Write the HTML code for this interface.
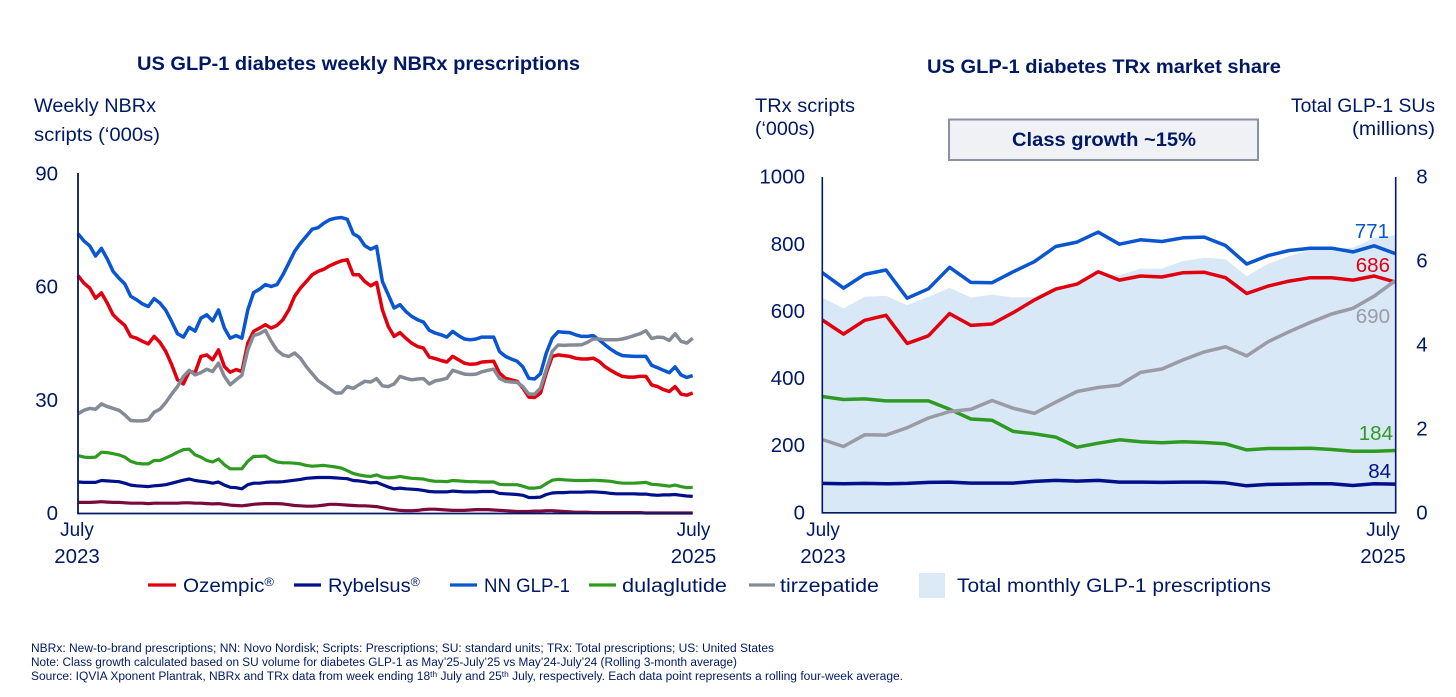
<!DOCTYPE html>
<html lang="en">
<head>
<meta charset="utf-8">
<title>US GLP-1 diabetes prescriptions</title>
<style>
html,body{margin:0;padding:0;background:#fff;}
body{width:1456px;height:697px;overflow:hidden;}
svg{display:block;}
text{font-family:"Liberation Sans",Arial,sans-serif;fill:#001965;font-size:19px;}
.b{font-weight:bold;}
.fn{font-size:11.5px;}
.num{font-size:20.5px;}
</style>
</head>
<body>
<svg id="root" xmlns="http://www.w3.org/2000/svg" width="1456" height="697" viewBox="0 0 1456 697">
<rect width="1456" height="697" fill="#fff"/>
<text class="b" x="137" y="70" textLength="443" lengthAdjust="spacingAndGlyphs">US GLP-1 diabetes weekly NBRx prescriptions</text>
<text class="b" x="927" y="73" textLength="354" lengthAdjust="spacingAndGlyphs">US GLP-1 diabetes TRx market share</text>
<text x="34" y="112" textLength="122" lengthAdjust="spacingAndGlyphs">Weekly NBRx</text>
<text x="34" y="141" textLength="126" lengthAdjust="spacingAndGlyphs">scripts (‘000s)</text>
<text x="755" y="112" textLength="100" lengthAdjust="spacingAndGlyphs">TRx scripts</text>
<text x="755" y="135" textLength="60" lengthAdjust="spacingAndGlyphs">(‘000s)</text>
<text x="1291" y="112" textLength="144" lengthAdjust="spacingAndGlyphs">Total GLP-1 SUs</text>
<text x="1352" y="135" textLength="83" lengthAdjust="spacingAndGlyphs">(millions)</text>
<rect x="949" y="119.5" width="309" height="40.5" fill="#f0f1f4" stroke="#8a90a6" stroke-width="2"/>
<text class="b" x="1012" y="146" textLength="184" lengthAdjust="spacingAndGlyphs">Class growth ~15%</text>
<g id="left-plot"></g>
<g id="right-plot"></g>
<g>
<line x1="148" x2="176" y1="585" y2="585" stroke="#e0000f" stroke-width="3.2"/>
<text x="183" y="592" textLength="91" lengthAdjust="spacingAndGlyphs">Ozempic<tspan dy="-6" font-size="12">®</tspan></text>
<line x1="294" x2="321" y1="585" y2="585" stroke="#00108a" stroke-width="3.2"/>
<text x="328" y="592" textLength="92" lengthAdjust="spacingAndGlyphs">Rybelsus<tspan dy="-6" font-size="12">®</tspan></text>
<line x1="450" x2="477" y1="585" y2="585" stroke="#0a55d0" stroke-width="3.2"/>
<text x="484" y="592" textLength="86" lengthAdjust="spacingAndGlyphs">NN GLP-1</text>
<line x1="589" x2="616" y1="585" y2="585" stroke="#2f9a22" stroke-width="3.2"/>
<text x="622" y="592" textLength="105" lengthAdjust="spacingAndGlyphs">dulaglutide</text>
<line x1="749" x2="775" y1="585" y2="585" stroke="#858b96" stroke-width="3.2"/>
<text x="780" y="592" textLength="99" lengthAdjust="spacingAndGlyphs">tirzepatide</text>
<rect x="919" y="573" width="26" height="25" fill="#dce9f7"/>
<text x="957" y="592" textLength="314" lengthAdjust="spacingAndGlyphs">Total monthly GLP-1 prescriptions</text>
</g>
<text class="fn" x="31" y="652" textLength="743" lengthAdjust="spacingAndGlyphs">NBRx: New-to-brand prescriptions; NN: Novo Nordisk; Scripts: Prescriptions; SU: standard units; TRx: Total prescriptions; US: United States</text>
<text class="fn" x="31" y="666" textLength="706" lengthAdjust="spacingAndGlyphs">Note: Class growth calculated based on SU volume for diabetes GLP-1 as May’25-July’25 vs May’24-July’24 (Rolling 3-month average)</text>
<text class="fn" x="31" y="680" textLength="872" lengthAdjust="spacingAndGlyphs">Source: IQVIA Xponent Plantrak, NBRx and TRx data from week ending 18<tspan dy="-3" font-size="8">th</tspan><tspan dy="3"> July and 25</tspan><tspan dy="-3" font-size="8">th</tspan><tspan dy="3"> July, respectively. Each data point represents a rolling four-week average.</tspan></text>
</svg>
<script>
const leftYTicks = [0, 30, 60, 90];
const rightYTicks = [0, 200, 400, 600, 800, 1000];
const secondaryYTicks = [0, 2, 4, 6, 8];
const xTickYears = ["2023", "2025"];
const xTickMonth = "July";

const nbrxNnGlp1 = [74.0,72.1,70.8,68.1,70.1,67.3,64.0,62.2,60.7,57.4,56.5,55.4,54.7,56.8,55.6,53.7,50.7,47.5,46.6,49.2,48.2,51.6,52.5,50.9,53.8,49.0,46.3,47.0,46.3,53.8,58.4,59.3,60.5,60.0,60.5,63.1,66.2,69.3,71.5,73.3,75.2,75.6,76.8,77.7,78.1,78.3,77.8,74.0,73.1,70.8,69.9,70.6,61.3,57.8,
54.3,55.2,53.4,52.1,51.2,50.6,48.4,47.7,47.2,46.6,48.1,47.0,46.1,45.9,46.1,46.6,46.6,46.6,42.8,41.5,40.8,40.2,38.7,35.7,35.5,36.9,42.4,46.3,48.0,47.9,47.8,47.2,46.8,46.8,47.0,45.9,44.6,43.4,42.4,41.7,41.6,41.5,41.5,41.5,39.1,38.5,37.8,37.2,38.7,36.6,35.9,36.4];
const nbrxOzempic = [62.9,60.9,59.6,56.9,58.3,55.6,52.5,51.0,49.7,46.8,46.3,45.5,44.8,46.8,45.2,42.8,39.3,35.3,34.2,37.5,37.2,41.5,41.9,40.6,43.2,38.8,37.3,38.0,37.5,45.0,48.1,49.0,49.9,49.0,49.7,51.2,53.8,57.4,59.6,61.3,63.1,64.0,64.6,65.5,66.2,66.8,67.1,63.1,63.1,61.3,60.2,61.1,53.8,49.4,
46.8,47.8,46.3,45.0,44.1,43.7,41.3,40.9,40.4,40.0,41.5,40.6,39.7,39.4,39.5,40.0,40.1,40.2,37.1,35.7,35.3,34.9,33.1,30.7,30.6,31.8,37.1,41.5,41.9,41.7,41.5,41.0,40.8,40.8,41.0,40.2,38.8,37.8,36.9,36.2,36.0,36.0,36.2,36.2,33.9,33.5,32.7,32.2,33.5,31.5,31.2,31.8];
const nbrxTirzepatide = [26.3,27.2,27.7,27.5,28.9,28.2,27.7,27.2,26.0,24.5,24.4,24.4,24.7,26.7,27.5,29.3,31.5,33.5,36.2,37.8,36.6,37.2,38.1,37.5,39.7,36.2,34.0,35.3,36.5,43.2,47.0,47.5,48.4,45.5,43.1,41.9,41.5,42.4,41.0,38.8,36.9,35.1,34.0,32.9,31.8,31.8,33.5,33.0,34.0,34.9,34.7,35.6,33.7,33.5,
34.2,36.2,35.7,35.3,35.5,35.6,34.2,35.0,35.3,35.7,37.8,37.3,36.8,36.7,36.8,37.4,37.8,38.1,35.7,34.9,34.7,34.6,33.5,31.5,31.5,33.1,38.0,42.8,44.5,44.4,44.5,44.5,44.6,45.2,46.1,46.1,45.9,45.9,45.9,46.1,46.5,47.0,47.5,48.3,46.2,46.6,46.5,45.7,47.5,45.5,45.0,46.3];
const nbrxDulaglutide = [15.2,14.8,14.7,14.8,16.1,16.0,15.7,15.4,14.8,13.7,13.2,13.0,13.0,13.9,13.9,14.6,15.3,16.1,16.8,16.9,15.4,14.8,13.9,13.5,14.3,12.8,11.7,11.7,11.7,13.7,15.0,15.0,15.1,14.1,13.5,13.3,13.3,13.2,13.0,12.6,12.4,12.5,12.6,12.4,12.2,11.9,11.2,10.5,10.1,9.8,9.7,10.1,9.5,9.3,
9.4,9.7,9.4,9.2,9.1,9.0,8.6,8.4,8.4,8.3,8.6,8.5,8.4,8.3,8.3,8.2,8.2,8.2,7.6,7.5,7.5,7.5,7.1,6.6,6.6,6.8,7.8,8.7,8.9,8.8,8.7,8.6,8.6,8.6,8.7,8.6,8.5,8.4,8.1,7.9,7.9,7.9,8.0,8.1,7.6,7.5,7.3,7.1,7.4,7.0,6.7,6.8];
const nbrxRybelsus = [8.2,8.1,8.1,8.1,8.6,8.5,8.4,8.3,7.9,7.4,7.2,7.1,7.0,7.2,7.3,7.5,7.9,8.3,8.7,9.0,8.6,8.4,8.2,7.9,8.2,7.4,6.8,6.7,6.4,7.5,7.9,7.9,8.1,8.2,8.2,8.3,8.5,8.7,8.9,9.2,9.3,9.4,9.4,9.4,9.3,9.2,9.1,8.6,8.5,8.3,8.0,8.1,7.5,6.9,
6.4,6.6,6.4,6.3,6.2,6.0,5.7,5.6,5.6,5.6,5.8,5.7,5.6,5.6,5.6,5.7,5.7,5.7,5.2,5.1,5.0,4.9,4.7,4.1,4.1,4.2,4.9,5.3,5.4,5.4,5.5,5.5,5.5,5.6,5.6,5.5,5.4,5.2,5.1,5.1,5.1,5.1,5.0,5.0,4.8,4.7,4.8,4.8,4.9,4.7,4.5,4.4];
const nbrxOther = [2.8,2.8,2.8,2.9,3.0,2.9,2.8,2.8,2.7,2.6,2.6,2.6,2.5,2.6,2.6,2.6,2.6,2.6,2.7,2.7,2.6,2.6,2.5,2.4,2.5,2.3,2.1,2.0,1.9,2.1,2.3,2.4,2.5,2.5,2.5,2.4,2.2,2.0,1.9,1.8,1.8,1.9,2.1,2.3,2.3,2.2,2.1,2.0,1.9,1.9,1.8,1.7,1.4,1.1,
0.9,0.7,0.6,0.6,0.7,0.9,1.0,1.0,0.9,0.8,0.7,0.7,0.7,0.8,0.9,0.9,0.9,0.8,0.7,0.6,0.5,0.4,0.4,0.4,0.5,0.5,0.6,0.6,0.5,0.4,0.3,0.2,0.2,0.2,0.1,0.1,0.1,0.1,0.1,0.1,0.1,0.1,0.1,0.0,0.0,0.0,0.0,0.0,0.0,0.0,0.0,0.0];

const trxNnGlp1 = [714,668,709,722,638,666,730,685,684,717,747,792,805,835,799,812,807,818,820,795,740,765,780,787,787,776,794,771];
const trxOzempic = [573,531,572,587,503,526,592,557,561,595,633,665,680,717,692,704,701,714,715,699,652,674,689,699,699,692,704,686];
const trxTirzepatide = [217,196,231,230,252,281,300,307,333,310,295,328,360,372,379,417,427,454,478,493,466,508,538,566,591,608,644,690];
const trxDulaglutide = [345,336,338,332,332,332,307,278,274,241,234,224,194,206,216,210,207,210,208,204,186,190,190,191,187,182,182,184];
const trxRybelsus = [86,85,86,85,86,89,90,87,87,87,92,95,93,95,90,90,89,90,90,88,79,83,84,85,85,80,85,84];
const totalSuMillions = [5.12,4.86,5.14,5.16,4.94,5.14,5.35,5.12,5.19,5.12,5.13,5.36,5.45,5.68,5.65,5.81,5.81,5.99,6.07,6.03,5.63,5.92,6.11,6.25,6.29,6.31,6.54,6.60];

const NS = "http://www.w3.org/2000/svg";
function mk(parent, tag, attrs, txt) {
  const el = document.createElementNS(NS, tag);
  for (const k in attrs) el.setAttribute(k, attrs[k]);
  if (txt !== undefined) el.textContent = txt;
  parent.appendChild(el);
  return el;
}

const leftG = document.getElementById("left-plot");
const rightG = document.getElementById("right-plot");

const xLeft = i => 78 + i * (692.7 - 78) / (nbrxOzempic.length - 1);
const yLeft = v => 513 - v * (513 - 173.3) / 90;
const xRight = i => 822.3 + i * (1395.3 - 822.3) / (trxOzempic.length - 1);
const yRight = v => 512.3 - v * (512.3 - 176.7) / 1000;
const ySecondary = v => 512.3 - v * (512.3 - 176.7) / 8;

function pathOf(vals, xf, yf) {
  return vals.map((v, i) => (i ? "L" : "M") + xf(i).toFixed(1) + " " + yf(v).toFixed(1)).join("");
}

/* area */
const areaEl = mk(rightG, "path", {
  d: pathOf(totalSuMillions, xRight, ySecondary) + "L" + xRight(totalSuMillions.length - 1) + " " + ySecondary(0) + "L" + xRight(0) + " " + ySecondary(0) + "Z",
  fill: "#d9e8f6"
});



/* left series */
const leftOther = mk(leftG, "path", {d: pathOf(nbrxOther, xLeft, yLeft), fill: "none", stroke: "#7a0a3c", "stroke-width": 3.2, "stroke-linejoin": "round"});


const leftRyb = mk(leftG, "path", {d: pathOf(nbrxRybelsus, xLeft, yLeft), fill: "none", stroke: "#00108a", "stroke-width": 3.2, "stroke-linejoin": "round"});


const leftDul = mk(leftG, "path", {d: pathOf(nbrxDulaglutide, xLeft, yLeft), fill: "none", stroke: "#2f9a22", "stroke-width": 3.2, "stroke-linejoin": "round"});


const leftNn = mk(leftG, "path", {d: pathOf(nbrxNnGlp1, xLeft, yLeft), fill: "none", stroke: "#0a55d0", "stroke-width": 3.5, "stroke-linejoin": "round"});


const leftOz = mk(leftG, "path", {d: pathOf(nbrxOzempic, xLeft, yLeft), fill: "none", stroke: "#e0000f", "stroke-width": 3.5, "stroke-linejoin": "round"});


const leftTz = mk(leftG, "path", {d: pathOf(nbrxTirzepatide, xLeft, yLeft), fill: "none", stroke: "#858b96", "stroke-width": 3.5, "stroke-linejoin": "round"});



/* right series */
const rightRyb = mk(rightG, "path", {d: pathOf(trxRybelsus, xRight, yRight), fill: "none", stroke: "#00108a", "stroke-width": 3.5, "stroke-linejoin": "round"});


const rightDul = mk(rightG, "path", {d: pathOf(trxDulaglutide, xRight, yRight), fill: "none", stroke: "#2f9a22", "stroke-width": 3.5, "stroke-linejoin": "round"});


const rightNn = mk(rightG, "path", {d: pathOf(trxNnGlp1, xRight, yRight), fill: "none", stroke: "#0a55d0", "stroke-width": 3.5, "stroke-linejoin": "round"});


const rightOz = mk(rightG, "path", {d: pathOf(trxOzempic, xRight, yRight), fill: "none", stroke: "#e0000f", "stroke-width": 3.5, "stroke-linejoin": "round"});


const rightTz = mk(rightG, "path", {d: pathOf(trxTirzepatide, xRight, yRight), fill: "none", stroke: "#9a9ba6", "stroke-width": 3.5, "stroke-linejoin": "round"});



/* axes */
const axL = mk(leftG, "path", {d: "M78 173V513.5H692.7", fill: "none", stroke: "#001965", "stroke-width": 1.8});


const axR = mk(rightG, "path", {d: "M822.3 177V512.8H1395.7V177", fill: "none", stroke: "#001965", "stroke-width": 1.6});



/* tick labels */
leftYTicks.forEach(t => {
  const el = mk(leftG, "text", {class: "num", x: 58, y: yLeft(t) + 7, "text-anchor": "end"}, String(t));
  
  
});
rightYTicks.forEach(t => {
  const el = mk(rightG, "text", {class: "num", x: 805, y: yRight(t) + 7, "text-anchor": "end"}, String(t));
  
  
});
secondaryYTicks.forEach(t => {
  const el = mk(rightG, "text", {class: "num", x: 1422, y: ySecondary(t) + 7, "text-anchor": "middle"}, String(t));
  
  
});
xTickYears.forEach((yr, k) => {
  const lx = k === 0 ? 77 : 693.5;
  const rx = k === 0 ? 823 : 1383;
  [[leftG, lx], [rightG, rx]].forEach(pair => {
    const m = mk(pair[0], "text", {x: pair[1], y: 536, "text-anchor": "middle"}, xTickMonth);
    
    
    const y = mk(pair[0], "text", {class: "num", x: pair[1], y: 563, "text-anchor": "middle"}, yr);
    
    
  });
});

/* end value labels, printed from the last value of each series */
const endLabels = [
  [trxNnGlp1, "#0a55d0", 1389, 238, 'end-label-nn-glp-1'],
  [trxOzempic, "#e0000f", 1390, 272, 'end-label-ozempic'],
  [trxTirzepatide, "#9a9ba6", 1390, 323, 'end-label-tirzepatide'],
  [trxDulaglutide, "#2f9a22", 1393, 440, 'end-label-dulaglutide'],
  [trxRybelsus, "#00108a", 1391, 478, 'end-label-rybelsus']
];
endLabels.forEach(d => {
  const el = mk(rightG, "text", {class: "num", x: d[2], y: d[3], "text-anchor": "end", style: "fill:" + d[1]}, String(d[0][d[0].length - 1]));
  
  
});
</script>
</body>
</html>
